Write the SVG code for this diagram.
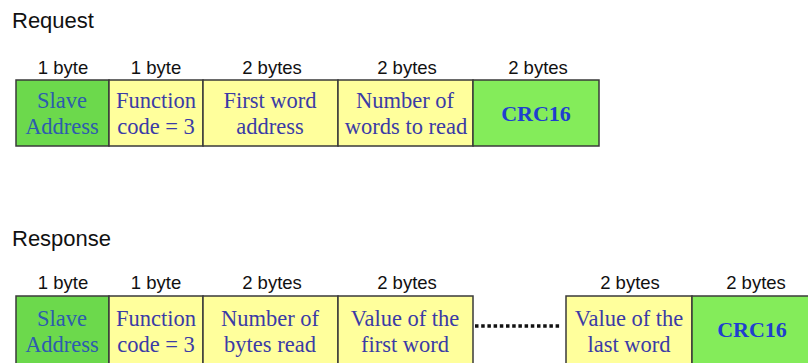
<svg xmlns="http://www.w3.org/2000/svg" width="808" height="363" viewBox="0 0 808 363">
<style>
.title{font-family:"Liberation Sans",Arial,sans-serif;font-size:22px;fill:#111}
.hdr{font-family:"Liberation Sans",Arial,sans-serif;font-size:18.5px;fill:#111;text-anchor:middle}
.cell{font-family:"Liberation Serif","Times New Roman",serif;font-size:22.5px;fill:#3b3ba6;text-anchor:middle}
.cellg{font-family:"Liberation Serif","Times New Roman",serif;font-size:22.5px;fill:#2d5cae;text-anchor:middle}
.crc{font-family:"Liberation Serif","Times New Roman",serif;font-size:22px;font-weight:bold;fill:#1f3fcf;text-anchor:middle}
.y{fill:#ffff9c;stroke:#3a3a3a;stroke-width:1.5}
.g{fill:#6cd94c;stroke:#3a3a3a;stroke-width:1.5}
.g2{fill:#84ec5a;stroke:#3a3a3a;stroke-width:1.5}
</style>
<rect width="808" height="363" fill="#fff"/>
<text class="title" x="12" y="28">Request</text>
<text class="title" x="12" y="246">Response</text>

<g id="req-slave">
<text class="hdr" x="63" y="74">1 byte</text>
<rect class="g" x="16" y="80" width="93" height="66"/>
<text class="cellg" x="62" y="108">Slave</text>
<text class="cellg" x="62" y="134">Address</text>
</g>
<g id="req-func">
<text class="hdr" x="156" y="74">1 byte</text>
<rect class="y" x="109" y="80" width="94" height="66"/>
<text class="cell" x="156" y="108">Function</text>
<text class="cell" x="156" y="134">code = 3</text>
</g>
<g id="req-first">
<text class="hdr" x="272" y="74">2 bytes</text>
<rect class="y" x="203" y="80" width="135" height="66"/>
<text class="cell" x="270" y="108">First word</text>
<text class="cell" x="270" y="134">address</text>
</g>
<g id="req-num">
<text class="hdr" x="407" y="74">2 bytes</text>
<rect class="y" x="338" y="80" width="135" height="66"/>
<text class="cell" x="405" y="108">Number of</text>
<text class="cell" x="406" y="134">words to read</text>
</g>
<g id="req-crc">
<text class="hdr" x="538" y="74">2 bytes</text>
<rect class="g2" x="473" y="80" width="126" height="66"/>
<text class="crc" x="536" y="121">CRC16</text>
</g>

<g id="resp-slave">
<text class="hdr" x="63" y="289">1 byte</text>
<rect class="g" x="16" y="296" width="93" height="74"/>
<text class="cellg" x="62" y="326">Slave</text>
<text class="cellg" x="62" y="352">Address</text>
</g>
<g id="resp-func">
<text class="hdr" x="156" y="289">1 byte</text>
<rect class="y" x="109" y="296" width="94" height="74"/>
<text class="cell" x="156" y="326">Function</text>
<text class="cell" x="156" y="352">code = 3</text>
</g>
<g id="resp-bytes">
<text class="hdr" x="272" y="289">2 bytes</text>
<rect class="y" x="203" y="296" width="135" height="74"/>
<text class="cell" x="270" y="326">Number of</text>
<text class="cell" x="270" y="352">bytes read</text>
</g>
<g id="resp-first">
<text class="hdr" x="407" y="289">2 bytes</text>
<rect class="y" x="338" y="296" width="135" height="74"/>
<text class="cell" x="405" y="326">Value of the</text>
<text class="cell" x="405" y="352">first word</text>
</g>
<g id="resp-last">
<text class="hdr" x="630" y="289">2 bytes</text>
<rect class="y" x="566" y="296" width="126" height="74"/>
<text class="cell" x="629" y="326">Value of the</text>
<text class="cell" x="629" y="352">last word</text>
</g>
<g id="resp-crc">
<text class="hdr" x="756" y="289">2 bytes</text>
<rect class="g2" x="692" y="296" width="126" height="74"/>
<text class="crc" x="752" y="337">CRC16</text>
</g>

<g id="connectors">
<line x1="475" y1="326" x2="561" y2="326" stroke="#111" stroke-width="3.5" stroke-dasharray="3.5,2.7"/>
</g>
</svg>
